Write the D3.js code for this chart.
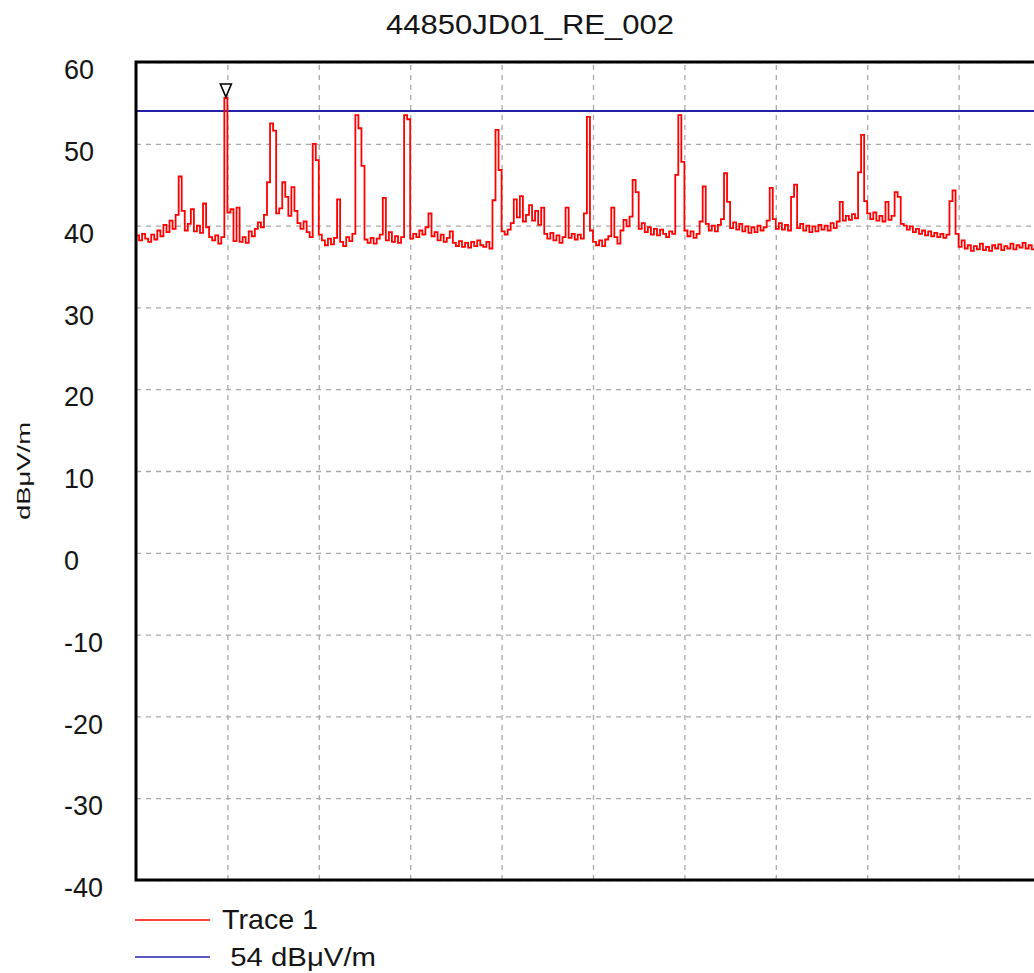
<!DOCTYPE html>
<html>
<head>
<meta charset="utf-8">
<script src="https://cdn.jsdelivr.net/npm/d3@7"></script>
<style>
  html, body { margin: 0; padding: 0; background: #fff; overflow: hidden; }
  svg { display: block; }
  text { font-family: "Liberation Sans", Arial, sans-serif; fill: #151515; }
</style>
</head>
<body>
<svg id="chart" width="1034" height="973"></svg>
<script>
// Chart title and axis text
const chartTitle = "44850JD01_RE_002";
const yAxisTitle = "dBμV/m";

// Level axis ticks (dBμV/m)
const yTicks = [60, 50, 40, 30, 20, 10, 0, -10, -20, -30, -40];

// Frequency axis divisions (10 grid divisions, 30 sweep points each)
const xDivisions = [0, 1, 2, 3, 4, 5, 6, 7, 8, 9, 10];
const pointsPerDivision = 30;

// Trace 1: measured level per sweep point (dBμV/m)
const traceLevels = [
  38.8, 38.2, 39.0, 38.4, 38.0, 38.9, 38.3, 39.4, 38.7, 40.1,
  39.2, 40.6, 39.6, 41.3, 46.0, 41.8, 39.4, 40.2, 42.0, 39.3,
  40.0, 39.1, 42.7, 39.8, 38.6, 38.2, 38.8, 37.8, 38.6, 55.6,
  41.6, 42.0, 38.1, 42.2, 38.0, 38.6, 37.9, 39.3, 38.7, 39.6,
  40.4, 39.8, 41.3, 45.3, 52.5, 51.6, 41.5, 42.1, 45.3, 43.5,
  41.2, 44.7, 41.8, 40.3, 39.6, 40.5, 39.2, 38.6, 50.0, 48.0,
  38.9, 38.2, 37.6, 38.4, 37.7, 38.5, 43.2, 38.0, 37.5, 38.6,
  38.1, 39.0, 53.5, 51.9, 47.3, 38.3, 37.9, 38.5, 37.8, 38.4,
  38.9, 43.4, 38.2, 39.2, 38.0, 38.7, 37.9, 38.6, 53.5, 53.0,
  38.4, 39.0, 38.6, 39.4, 38.9, 39.8, 41.5, 38.7, 39.2, 38.2,
  38.9, 38.0, 38.5, 39.3, 37.9, 37.5, 38.1, 37.4, 37.9, 37.3,
  38.0, 37.5, 38.2, 37.6, 37.4, 38.0, 37.2, 43.1, 51.7, 46.8,
  39.3, 38.9, 39.5, 40.3, 43.2, 41.0, 43.6, 40.5, 41.3, 42.5,
  40.6, 41.8, 40.1, 42.2, 39.0, 38.4, 39.1, 38.2, 38.8, 37.9,
  38.6, 42.2, 38.5, 39.0, 38.3, 38.9, 38.4, 41.5, 53.3, 39.4,
  38.0, 37.6, 38.2, 37.5, 38.3, 38.7, 42.2, 38.6, 37.8, 39.4,
  40.7, 39.9, 41.1, 45.6, 44.1, 39.6, 40.3, 39.2, 39.8, 38.9,
  39.6, 38.8, 39.5, 39.0, 38.6, 39.3, 39.0, 46.2, 53.5, 47.8,
  39.4, 38.7, 39.3, 38.5, 39.0, 40.5, 44.8, 40.2, 39.4, 40.0,
  39.3, 40.1, 40.8, 46.4, 42.9, 39.7, 40.4, 39.5, 40.2, 39.3,
  39.9, 39.1, 39.8, 39.2, 40.0, 39.4, 39.8, 40.6, 44.6, 40.8,
  39.6, 40.3, 39.5, 40.1, 39.4, 43.5, 45.0, 39.7, 40.2, 39.4,
  40.0, 39.2, 39.9, 39.3, 40.1, 39.5, 40.0, 39.4, 40.3, 39.7,
  40.5, 42.9, 40.6, 41.2, 40.7, 41.4, 40.9, 46.5, 51.1, 43.0,
  41.5, 40.8, 41.6, 40.6, 41.2, 40.5, 42.9, 40.7, 41.2, 44.1,
  43.5, 40.2, 40.0, 39.5, 39.9, 39.2, 39.6, 39.0, 39.4, 38.8,
  39.3, 38.7, 39.1, 38.6, 39.0, 38.5, 38.9, 43.0, 44.3, 39.0,
  37.4, 38.2, 37.2, 37.6, 36.9, 37.5, 37.1, 37.8, 37.0, 37.4,
  36.9, 37.6, 37.2, 37.7, 37.0, 37.5, 37.2, 37.8, 37.1, 37.6,
  37.3, 37.9, 37.2, 37.6, 37.1, 37.5, 37.2, 37.7, 37.3, 37.6
];

// Limit line and peak marker
const limitLevel = 54;
const limitLabel = " 54 dBμV/m";
const traceLabel = "Trace 1";
const peakMarkerIndex = 29;

const svg = d3.select("#chart");

const margin = { left: 136, top: 62, right: 1050, bottom: 880 };

const x = d3.scaleLinear()
  .domain([0, xDivisions[xDivisions.length - 1] * pointsPerDivision])
  .range([margin.left, margin.right]);

const y = d3.scaleLinear()
  .domain([d3.min(yTicks), d3.max(yTicks)])
  .range([margin.bottom, margin.top]);

const plotW = margin.right - margin.left;
const plotH = margin.bottom - margin.top;

// Title
svg.append("text")
  .attr("x", 386)
  .attr("y", 34)
  .attr("font-size", 28)
  .attr("textLength", 288)
  .attr("lengthAdjust", "spacingAndGlyphs")
  .text(chartTitle);

// Clip for the plot area
svg.append("defs").append("clipPath").attr("id", "plot-clip")
  .append("rect")
  .attr("x", margin.left).attr("y", margin.top)
  .attr("width", plotW).attr("height", plotH);

// Horizontal grid
const yGrid = svg.append("g")
  .attr("transform", `translate(${margin.left},0)`)
  .call(d3.axisLeft(y).tickValues(yTicks).tickSize(-plotW).tickFormat(""));
yGrid.select(".domain").remove();
yGrid.selectAll("line")
  .attr("stroke", "#a8a8a8")
  .attr("stroke-width", 1.3)
  .attr("stroke-dasharray", "5,5");

// Vertical grid
const xGrid = svg.append("g")
  .attr("transform", `translate(0,${margin.bottom})`)
  .call(d3.axisBottom(x)
    .tickValues(xDivisions.map(d => d * pointsPerDivision))
    .tickSize(-plotH).tickFormat(""));
xGrid.select(".domain").remove();
xGrid.selectAll("line")
  .attr("stroke", "#a8a8a8")
  .attr("stroke-width", 1.3)
  .attr("stroke-dasharray", "5,5");

// Y tick labels, left-aligned in a column beside the plot
const yLabels = svg.append("g")
  .attr("transform", `translate(${margin.left},0)`)
  .call(d3.axisLeft(y).tickValues(yTicks).tickSize(0).tickPadding(0)
    .tickFormat(d => String(d)));
yLabels.select(".domain").remove();
yLabels.selectAll("text")
  .attr("x", -72)
  .attr("text-anchor", "start")
  .attr("font-size", 27)
  .attr("dy", "0.62em")
  .attr("fill", "#151515")
  .style("font-family", "\"Liberation Sans\", Arial, sans-serif");

// Y axis title
svg.append("text")
  .attr("transform", `translate(30,${(margin.top + margin.bottom) / 2}) rotate(-90)`)
  .attr("x", -49)
  .attr("font-size", 19)
  .attr("textLength", 98)
  .attr("lengthAdjust", "spacingAndGlyphs")
  .text(yAxisTitle);

const plot = svg.append("g").attr("clip-path", "url(#plot-clip)");

// Limit line
plot.append("line")
  .attr("x1", margin.left).attr("x2", margin.right)
  .attr("y1", y(limitLevel)).attr("y2", y(limitLevel))
  .attr("stroke", "#2222aa")
  .attr("stroke-width", 2);

// Trace
const traceLine = d3.line()
  .x((d, i) => x(i))
  .y(d => y(d))
  .curve(d3.curveStepAfter);

plot.append("path")
  .datum(traceLevels)
  .attr("d", traceLine)
  .attr("fill", "none")
  .attr("stroke", "#ff0000")
  .attr("stroke-width", 1.8);

// Peak marker (inverted triangle above the peak)
const mx = x(peakMarkerIndex) + (x(1) - x(0)) / 2;
const my = y(traceLevels[peakMarkerIndex]);
svg.append("path")
  .attr("d", `M${mx - 5.5},${my - 14} L${mx + 5.5},${my - 14} L${mx},${my - 1} Z`)
  .attr("fill", "#fff")
  .attr("stroke", "#000")
  .attr("stroke-width", 1.6);

// Plot frame
svg.append("rect")
  .attr("x", margin.left).attr("y", margin.top)
  .attr("width", plotW).attr("height", plotH)
  .attr("fill", "none")
  .attr("stroke", "#000")
  .attr("stroke-width", 3);

// Legend
const legend = svg.append("g");
const legendItems = [
  { label: traceLabel, color: "#ff0000", y: 920, width: 96, size: 28 },
  { label: limitLabel, color: "#2222aa", y: 957, width: 154, size: 26 }
];
legendItems.forEach(item => {
  legend.append("line")
    .attr("x1", 135).attr("x2", 210)
    .attr("y1", item.y).attr("y2", item.y)
    .attr("stroke", item.color)
    .attr("stroke-width", 1.5);
  legend.append("text")
    .attr("x", 222)
    .attr("y", item.y + 9)
    .attr("font-size", item.size)
    .attr("xml:space", "preserve")
    .attr("textLength", item.width)
    .attr("lengthAdjust", "spacingAndGlyphs")
    .style("white-space", "pre")
    .text(item.label);
});
</script>
</body>
</html>
